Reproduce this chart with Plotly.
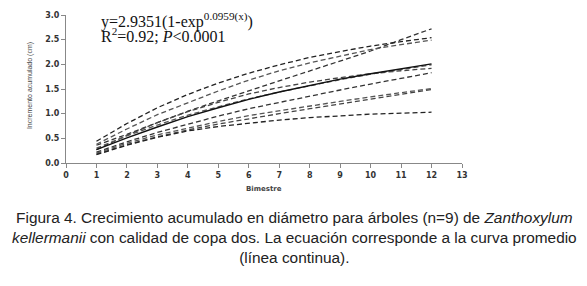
import plotly.graph_objects as go

bimestre = [1, 2, 3, 4, 5, 6, 7, 8, 9, 10, 11, 12]
x_ticks = list(range(0, 14))
y_ticks = [0.0, 0.5, 1.0, 1.5, 2.0, 2.5, 3.0]

arbol_a = [0.36, 0.58, 0.82, 1.05, 1.26, 1.46, 1.66, 1.86, 2.06, 2.27, 2.50, 2.72]
arbol_b = [0.44, 0.80, 1.12, 1.39, 1.62, 1.82, 1.99, 2.14, 2.26, 2.37, 2.46, 2.54]
arbol_c = [0.38, 0.69, 0.98, 1.22, 1.46, 1.68, 1.87, 2.03, 2.17, 2.30, 2.40, 2.49]
arbol_d = [0.27, 0.56, 0.82, 1.04, 1.23, 1.40, 1.53, 1.64, 1.73, 1.81, 1.87, 1.92]
arbol_e = [0.22, 0.43, 0.62, 0.79, 0.95, 1.10, 1.23, 1.36, 1.48, 1.60, 1.72, 1.83]
arbol_f = [0.20, 0.40, 0.57, 0.71, 0.84, 0.96, 1.06, 1.16, 1.25, 1.34, 1.43, 1.51]
arbol_g = [0.18, 0.37, 0.53, 0.67, 0.79, 0.90, 1.00, 1.10, 1.20, 1.30, 1.40, 1.49]
arbol_h = [0.17, 0.36, 0.52, 0.65, 0.74, 0.81, 0.87, 0.92, 0.96, 0.99, 1.01, 1.03]
arbol_i = [0.30, 0.55, 0.77, 0.97, 1.14, 1.30, 1.44, 1.57, 1.69, 1.80, 1.90, 1.99]
promedio = [0.27, 0.51, 0.73, 0.94, 1.12, 1.29, 1.44, 1.57, 1.70, 1.81, 1.91, 2.01]

dashed_series = [arbol_a, arbol_b, arbol_c, arbol_d, arbol_e, arbol_f, arbol_g, arbol_h, arbol_i]
dash_colors = ["#333333", "#222222", "#555555", "#444444", "#333333", "#555555", "#444444", "#222222", "#555555"]

# page has an 8px body margin; figure is laid out in its own coordinates
W, H = 579, 278
L, R, T, B = 58, 125, 3, 123
PW, PH = W - L - R, H - T - B


def px(xp):
    return (xp - 8 - L) / PW


def py(yp):
    return 1 - (yp - 8 - T) / PH


fig = go.Figure()
for vals, col in zip(dashed_series, dash_colors):
    fig.add_trace(go.Scatter(x=bimestre, y=vals, mode="lines",
                             line=dict(color=col, width=1.3, dash="5px,3px"),
                             showlegend=False, hoverinfo="skip"))
fig.add_trace(go.Scatter(x=bimestre, y=promedio, mode="lines",
                         line=dict(color="#111111", width=1.4),
                         showlegend=False, hoverinfo="skip"))

axis_font = dict(family="DejaVu Sans", size=8, color="#333333", weight="bold")

fig.update_layout(
    width=W, height=H,
    margin=dict(l=L, r=R, t=T, b=B),
    paper_bgcolor="white", plot_bgcolor="white",
    xaxis=dict(range=[0, 13], tickvals=x_ticks, showgrid=False, zeroline=False,
               showline=True, linecolor="#888888", linewidth=1,
               ticks="outside", ticklen=4, tickcolor="#888888",
               tickfont=axis_font, ticklabeloverflow="allow"),
    yaxis=dict(range=[0, 3.0], tickvals=y_ticks, tickformat=".1f", showgrid=False,
               zeroline=False, showline=True, linecolor="#888888", linewidth=1,
               ticks="outside", ticklen=4, tickcolor="#888888",
               tickfont=axis_font, ticklabeloverflow="allow"),
    font=dict(family="Liberation Sans"),
)

fig.add_annotation(text="Incremento acumulado (cm)", xref="paper", yref="paper",
                   x=px(30), y=py(84), xanchor="center", yanchor="middle",
                   textangle=-90, showarrow=False,
                   font=dict(family="Liberation Sans Narrow, Liberation Sans", size=7, color="#444444"))
fig.add_annotation(text="Bimestre", xref="paper", yref="paper",
                   x=px(264), y=py(190), xanchor="center", yanchor="middle", showarrow=False,
                   font=dict(family="DejaVu Sans", size=7, color="#444444", weight="bold"))

fig.add_annotation(text="y=2.9351(1-exp<sup>0.0959(x)</sup>)",
                   xref="paper", yref="paper", x=px(99), y=py(17),
                   xanchor="left", yanchor="middle", align="left", showarrow=False,
                   font=dict(family="Liberation Serif", size=16, color="#111111"))
fig.add_annotation(text="R<sup>2</sup>=0.92; <i>P</i>&lt;0.0001",
                   xref="paper", yref="paper", x=px(99), y=py(32),
                   xanchor="left", yanchor="middle", align="left", showarrow=False,
                   font=dict(family="Liberation Serif", size=16, color="#111111"))

caption = ("Figura 4. Crecimiento acumulado en diámetro para árboles (n=9) de <i>Zanthoxylum</i><br>"
           "<i>kellermanii</i> con calidad de copa dos. La ecuación corresponde a la curva promedio<br>"
           "(línea continua).")
fig.add_annotation(text=caption, xref="paper", yref="paper",
                   x=px(294), y=py(240), xanchor="center", yanchor="middle",
                   align="center", showarrow=False,
                   font=dict(family="Liberation Sans", size=15.4, color="#222222"))

fig.write_html("out.html")
